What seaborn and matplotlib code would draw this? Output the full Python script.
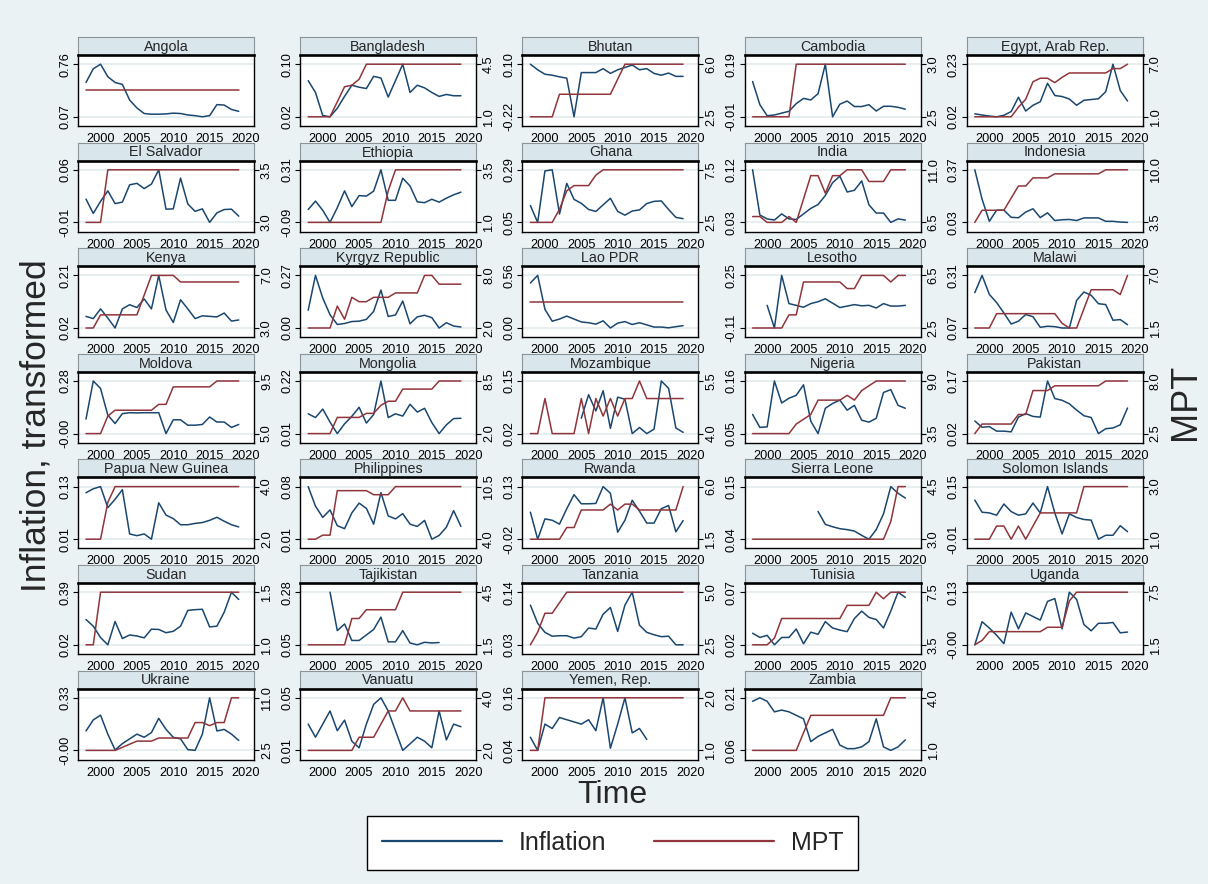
import numpy as np
import pandas as pd
import matplotlib
matplotlib.use("Agg")
import matplotlib.pyplot as plt
import seaborn as sns
from matplotlib.lines import Line2D

sns.set_style("white")
plt.rcParams["font.family"] = ["Liberation Sans", "DejaVu Sans"]

nan = np.nan
YEARS = list(range(1998, 2020))

ANGOLA_INF = [0.52, 0.70, 0.76, 0.596, 0.52, 0.495, 0.29, 0.186, 0.113, 0.104, 0.104, 0.108, 0.118, 0.113, 0.094, 0.085, 0.07, 0.085, 0.23, 0.224, 0.166, 0.142]
ANGOLA_MPT = [5.0, 5.0, 5.0, 5.0, 5.0, 5.0, 5.0, 5.0, 5.0, 5.0, 5.0, 5.0, 5.0, 5.0, 5.0, 5.0, 5.0, 5.0, 5.0, 5.0, 5.0, 5.0]
BANGLADESH_INF = [0.075, 0.057, 0.022, 0.02, 0.033, 0.051, 0.068, 0.065, 0.063, 0.0815, 0.079, 0.050, 0.075, 0.10, 0.057, 0.068, 0.064, 0.057, 0.051, 0.054, 0.052, 0.052]
BANGLADESH_MPT = [1.0, 1.0, 1.0, 1.0, 2.0, 3.0, 3.1, 3.5, 4.5, 4.5, 4.5, 4.5, 4.5, 4.5, 4.5, 4.5, 4.5, 4.5, 4.5, 4.5, 4.5, 4.5]
BHUTAN_INF = [0.10, 0.066, 0.039, 0.033, 0.023, 0.015, -0.22, 0.049, 0.049, 0.049, 0.073, 0.044, 0.066, 0.080, 0.095, 0.066, 0.073, 0.044, 0.033, 0.046, 0.026, 0.026]
BHUTAN_MPT = [2.5, 2.5, 2.5, 2.5, 4.0, 4.0, 4.0, 4.0, 4.0, 4.0, 4.0, 4.0, 5.0, 6.0, 6.0, 6.0, 6.0, 6.0, 6.0, 6.0, 6.0, 6.0]
CAMBODIA_INF = [0.124, 0.036, -0.006, -0.003, 0.004, 0.011, 0.04, 0.06, 0.054, 0.078, 0.19, -0.01, 0.038, 0.05, 0.029, 0.029, 0.036, 0.012, 0.03, 0.03, 0.026, 0.019]
CAMBODIA_MPT = [2.5, 2.5, 2.5, 2.5, 2.5, 2.5, 3.0, 3.0, 3.0, 3.0, 3.0, 3.0, 3.0, 3.0, 3.0, 3.0, 3.0, 3.0, 3.0, 3.0, 3.0, 3.0]
EGYPT_INF = [0.032, 0.027, 0.023, 0.02, 0.026, 0.041, 0.098, 0.043, 0.066, 0.08, 0.154, 0.105, 0.101, 0.091, 0.066, 0.086, 0.089, 0.092, 0.12, 0.23, 0.125, 0.083]
EGYPT_MPT = [1.0, 1.0, 1.0, 1.0, 1.0, 1.0, 2.1, 3.0, 5.0, 5.4, 5.4, 4.9, 5.5, 6.0, 6.0, 6.0, 6.0, 6.0, 6.0, 6.5, 6.5, 7.0]
ELSALVADOR_INF = [0.021, 0.002, 0.018, 0.032, 0.015, 0.017, 0.040, 0.042, 0.035, 0.041, 0.06, 0.0076, 0.008, 0.049, 0.0145, 0.0047, 0.008, -0.01, 0.0027, 0.0071, 0.0076, -0.0017]
ELSALVADOR_MPT = [3.0, 3.0, 3.0, 3.5, 3.5, 3.5, 3.5, 3.5, 3.5, 3.5, 3.5, 3.5, 3.5, 3.5, 3.5, 3.5, 3.5, 3.5, 3.5, 3.5, 3.5, 3.5]
ETHIOPIA_INF = [0.008, 0.072, 0.002, -0.09, 0.022, 0.15, 0.03, 0.114, 0.11, 0.148, 0.31, 0.078, 0.078, 0.246, 0.187, 0.066, 0.06, 0.086, 0.064, 0.094, 0.12, 0.14]
ETHIOPIA_MPT = [1.0, 1.0, 1.0, 1.0, 1.0, 1.0, 1.0, 1.0, 1.0, 1.0, 1.0, 2.5, 3.5, 3.5, 3.5, 3.5, 3.5, 3.5, 3.5, 3.5, 3.5, 3.5]
GHANA_INF = [0.127, 0.05, 0.285, 0.29, 0.088, 0.228, 0.155, 0.137, 0.109, 0.10, 0.13, 0.16, 0.10, 0.083, 0.102, 0.107, 0.136, 0.146, 0.148, 0.109, 0.073, 0.067]
GHANA_MPT = [2.5, 2.5, 2.5, 2.5, 3.75, 5.5, 6.0, 6.0, 6.0, 7.0, 7.5, 7.5, 7.5, 7.5, 7.5, 7.5, 7.5, 7.5, 7.5, 7.5, 7.5, 7.5]
INDIA_INF = [0.12, 0.0426, 0.036, 0.034, 0.0445, 0.036, 0.035, 0.0445, 0.054, 0.0606, 0.076, 0.098, 0.109, 0.082, 0.085, 0.101, 0.06, 0.046, 0.046, 0.03, 0.036, 0.034]
INDIA_MPT = [7.0, 7.0, 6.5, 6.5, 6.5, 7.0, 6.5, 8.5, 10.5, 10.5, 9.0, 10.5, 10.5, 11.0, 11.0, 11.0, 10.0, 10.0, 10.0, 11.0, 11.0, 11.0]
INDONESIA_INF = [0.37, 0.18, 0.037, 0.109, 0.109, 0.063, 0.06, 0.097, 0.118, 0.061, 0.092, 0.042, 0.047, 0.049, 0.042, 0.059, 0.059, 0.059, 0.037, 0.037, 0.032, 0.03]
INDONESIA_MPT = [3.5, 5.0, 5.0, 5.0, 5.0, 6.5, 8.0, 8.0, 9.0, 9.0, 9.0, 9.5, 9.5, 9.5, 9.5, 9.5, 9.5, 9.5, 10.0, 10.0, 10.0, 10.0]
KENYA_INF = [0.062, 0.054, 0.089, 0.056, 0.02, 0.089, 0.104, 0.094, 0.125, 0.089, 0.21, 0.085, 0.04, 0.122, 0.089, 0.054, 0.064, 0.062, 0.06, 0.074, 0.045, 0.049]
KENYA_MPT = [3.0, 3.0, 4.0, 4.0, 4.0, 4.0, 4.0, 4.0, 5.5, 7.0, 7.0, 7.0, 7.0, 6.5, 6.5, 6.5, 6.5, 6.5, 6.5, 6.5, 6.5, 6.5]
KYRGYZ_INF = [0.092, 0.27, 0.154, 0.069, 0.019, 0.024, 0.034, 0.036, 0.045, 0.086, 0.195, 0.06, 0.0675, 0.139, 0.0225, 0.058, 0.066, 0.054, 0.001, 0.028, 0.011, 0.006]
KYRGYZ_MPT = [2.0, 2.0, 2.0, 2.0, 4.5, 3.0, 5.5, 5.0, 5.0, 5.5, 5.5, 5.5, 6.0, 6.0, 6.0, 6.0, 8.0, 8.0, 7.0, 7.0, 7.0, 7.0]
LAO_INF = [0.48, 0.56, 0.20, 0.074, 0.097, 0.128, 0.097, 0.066, 0.058, 0.043, 0.078, 0.002, 0.054, 0.07, 0.039, 0.058, 0.035, 0.012, 0.012, 0.004, 0.016, 0.027]
LAO_MPT = [5.0, 5.0, 5.0, 5.0, 5.0, 5.0, 5.0, 5.0, 5.0, 5.0, 5.0, 5.0, 5.0, 5.0, 5.0, 5.0, 5.0, 5.0, 5.0, 5.0, 5.0, 5.0]
LESOTHO_INF = [nan, nan, 0.045, -0.11, 0.25, 0.057, 0.045, 0.032, 0.057, 0.07, 0.09, 0.06, 0.03, 0.04, 0.05, 0.042, 0.045, 0.027, 0.057, 0.04, 0.04, 0.045]
LESOTHO_MPT = [2.5, 2.5, 2.5, 2.5, 2.5, 3.5, 3.5, 6.0, 6.0, 6.0, 6.0, 6.0, 6.0, 5.5, 5.5, 6.5, 6.5, 6.5, 6.5, 6.0, 6.5, 6.5]
MALAWI_INF = [0.232, 0.31, 0.224, 0.187, 0.14, 0.09, 0.103, 0.133, 0.123, 0.075, 0.08, 0.078, 0.072, 0.072, 0.197, 0.235, 0.22, 0.182, 0.178, 0.107, 0.11, 0.087]
MALAWI_MPT = [1.5, 1.5, 1.5, 3.0, 3.0, 3.0, 3.0, 3.0, 3.0, 3.0, 3.0, 3.0, 2.0, 1.5, 1.5, 3.5, 5.5, 5.5, 5.5, 5.5, 5.0, 7.0]
MOLDOVA_INF = [0.076, 0.28, 0.24, 0.097, 0.052, 0.105, 0.11, 0.109, 0.11, 0.11, 0.11, -0.002, 0.072, 0.072, 0.043, 0.043, 0.047, 0.087, 0.06, 0.06, 0.031, 0.047]
MOLDOVA_MPT = [5.0, 5.0, 5.0, 6.5, 7.0, 7.0, 7.0, 7.0, 7.0, 7.0, 7.5, 7.5, 9.0, 9.0, 9.0, 9.0, 9.0, 9.0, 9.5, 9.5, 9.5, 9.5]
MONGOLIA_INF = [0.089, 0.074, 0.108, 0.056, 0.01, 0.049, 0.079, 0.115, 0.052, 0.086, 0.22, 0.074, 0.089, 0.08, 0.127, 0.096, 0.111, 0.054, 0.01, 0.045, 0.07, 0.071]
MONGOLIA_MPT = [2.0, 2.0, 2.0, 2.0, 4.0, 4.0, 4.0, 4.0, 4.5, 4.5, 5.5, 6.0, 6.0, 7.5, 7.5, 7.5, 7.5, 7.5, 8.5, 8.5, 8.5, 8.5]
MOZAMBIQUE_INF = [nan, nan, nan, nan, nan, nan, nan, 0.058, 0.116, 0.076, 0.126, 0.033, 0.11, 0.105, 0.02, 0.035, 0.02, 0.031, 0.15, 0.132, 0.034, 0.023]
MOZAMBIQUE_MPT = [4.0, 4.0, 5.0, 4.0, 4.0, 4.0, 4.0, 5.0, 4.0, 5.0, 4.5, 5.0, 4.5, 5.0, 5.0, 5.5, 5.0, 5.0, 5.0, 5.0, 5.0, 5.0]
NIGERIA_INF = [0.09, 0.063, 0.064, 0.16, 0.114, 0.124, 0.13, 0.152, 0.076, 0.05, 0.103, 0.113, 0.12, 0.099, 0.109, 0.078, 0.074, 0.082, 0.136, 0.142, 0.109, 0.103]
NIGERIA_MPT = [3.5, 3.5, 3.5, 3.5, 3.5, 3.5, 4.5, 5.0, 5.5, 7.0, 7.0, 7.0, 7.0, 7.5, 7.0, 8.0, 8.5, 9.0, 9.0, 9.0, 9.0, 9.0]
PAKISTAN_INF = [0.056, 0.038, 0.04, 0.027, 0.027, 0.025, 0.067, 0.077, 0.069, 0.067, 0.17, 0.12, 0.115, 0.105, 0.087, 0.071, 0.066, 0.02, 0.034, 0.036, 0.045, 0.093]
PAKISTAN_MPT = [2.5, 3.5, 3.5, 3.5, 3.5, 3.5, 4.5, 4.5, 7.0, 7.0, 7.0, 7.5, 7.5, 7.5, 7.5, 7.5, 7.5, 7.5, 8.0, 8.0, 8.0, 8.0]
PNG_INF = [0.116, 0.125, 0.13, 0.082, 0.101, 0.123, 0.022, 0.018, 0.022, 0.01, 0.093, 0.065, 0.057, 0.043, 0.043, 0.046, 0.048, 0.053, 0.06, 0.051, 0.043, 0.038]
PNG_MPT = [2.0, 2.0, 2.0, 3.4, 4.0, 4.0, 4.0, 4.0, 4.0, 4.0, 4.0, 4.0, 4.0, 4.0, 4.0, 4.0, 4.0, 4.0, 4.0, 4.0, 4.0, 4.0]
PHILIPPINES_INF = [0.08, 0.054, 0.039, 0.049, 0.028, 0.024, 0.045, 0.058, 0.051, 0.03, 0.072, 0.041, 0.037, 0.044, 0.03, 0.027, 0.035, 0.01, 0.015, 0.026, 0.048, 0.027]
PHILIPPINES_MPT = [4.0, 4.0, 4.5, 4.5, 10.0, 10.0, 10.0, 10.0, 10.0, 9.5, 9.5, 9.5, 10.5, 10.5, 10.5, 10.5, 10.5, 10.5, 10.5, 10.5, 10.5, 10.5]
RWANDA_INF = [0.057, -0.02, 0.038, 0.034, 0.023, 0.067, 0.107, 0.081, 0.081, 0.082, 0.13, 0.111, 0.0, 0.034, 0.091, 0.06, 0.026, 0.026, 0.067, 0.076, 0.001, 0.033]
RWANDA_MPT = [1.5, 1.5, 1.5, 1.5, 1.5, 2.5, 2.5, 4.0, 4.0, 4.0, 4.0, 4.5, 4.0, 4.5, 4.5, 4.0, 4.0, 4.0, 4.0, 4.0, 4.0, 6.0]
SIERRALEONE_INF = [nan, nan, nan, nan, nan, nan, nan, nan, nan, 0.098, 0.071, 0.066, 0.062, 0.06, 0.057, 0.048, 0.04, 0.06, 0.093, 0.15, 0.136, 0.126]
SIERRALEONE_MPT = [3.0, 3.0, 3.0, 3.0, 3.0, 3.0, 3.0, 3.0, 3.0, 3.0, 3.0, 3.0, 3.0, 3.0, 3.0, 3.0, 3.0, 3.0, 3.0, 3.5, 4.5, 4.5]
SOLOMON_INF = [0.109, 0.072, 0.07, 0.063, 0.097, 0.074, 0.063, 0.067, 0.1, 0.07, 0.15, 0.07, 0.006, 0.067, 0.056, 0.05, 0.048, -0.01, 0.002, 0.002, 0.031, 0.013]
SOLOMON_MPT = [1.0, 1.0, 1.0, 1.5, 1.5, 1.0, 1.5, 1.0, 1.5, 2.0, 2.0, 2.0, 2.0, 2.0, 2.0, 3.0, 3.0, 3.0, 3.0, 3.0, 3.0, 3.0]
SUDAN_INF = [0.198, 0.151, 0.071, 0.02, 0.184, 0.064, 0.089, 0.082, 0.069, 0.13, 0.128, 0.105, 0.115, 0.151, 0.262, 0.267, 0.27, 0.146, 0.151, 0.249, 0.39, 0.339]
SUDAN_MPT = [1.0, 1.0, 1.5, 1.5, 1.5, 1.5, 1.5, 1.5, 1.5, 1.5, 1.5, 1.5, 1.5, 1.5, 1.5, 1.5, 1.5, 1.5, 1.5, 1.5, 1.5, 1.5]
TAJIKISTAN_INF = [nan, nan, nan, 0.28, 0.112, 0.141, 0.069, 0.069, 0.093, 0.117, 0.171, 0.063, 0.063, 0.112, 0.058, 0.05, 0.061, 0.058, 0.06, nan, nan, nan]
TAJIKISTAN_MPT = [1.5, 1.5, 1.5, 1.5, 1.5, 1.5, 3.0, 3.0, 3.5, 3.5, 3.5, 3.5, 3.5, 4.5, 4.5, 4.5, 4.5, 4.5, 4.5, 4.5, 4.5, 4.5]
TANZANIA_INF = [0.113, 0.075, 0.056, 0.048, 0.049, 0.049, 0.044, 0.047, 0.065, 0.063, 0.094, 0.108, 0.058, 0.113, 0.14, 0.071, 0.056, 0.051, 0.047, 0.048, 0.03, 0.03]
TANZANIA_MPT = [2.5, 3.1, 4.0, 4.0, 4.5, 5.0, 5.0, 5.0, 5.0, 5.0, 5.0, 5.0, 5.0, 5.0, 5.0, 5.0, 5.0, 5.0, 5.0, 5.0, 5.0, 5.0]
TUNISIA_INF = [0.031, 0.027, 0.029, 0.02, 0.027, 0.027, 0.035, 0.021, 0.032, 0.03, 0.042, 0.036, 0.034, 0.0325, 0.045, 0.052, 0.046, 0.044, 0.036, 0.052, 0.07, 0.065]
TUNISIA_MPT = [3.5, 3.5, 3.5, 4.0, 5.5, 5.5, 5.5, 5.5, 5.5, 5.5, 5.5, 5.5, 5.5, 6.5, 6.5, 6.5, 6.5, 7.5, 7.0, 7.5, 7.5, 7.5]
UGANDA_INF = [-0.002, 0.056, 0.04, 0.022, 0.001, 0.08, 0.038, 0.078, 0.069, 0.06, 0.107, 0.114, 0.038, 0.13, 0.112, 0.049, 0.033, 0.052, 0.052, 0.054, 0.028, 0.03]
UGANDA_MPT = [1.5, 2.0, 3.0, 3.0, 3.0, 3.0, 3.0, 3.0, 3.0, 3.0, 3.5, 3.5, 3.5, 6.5, 7.5, 7.5, 7.5, 7.5, 7.5, 7.5, 7.5, 7.5]
UKRAINE_INF = [0.12, 0.19, 0.22, 0.10, 0.0, 0.04, 0.07, 0.10, 0.08, 0.11, 0.20, 0.13, 0.08, 0.07, 0.002, -0.003, 0.10, 0.33, 0.12, 0.13, 0.10, 0.06]
UKRAINE_MPT = [2.5, 2.5, 2.5, 2.5, 2.5, 3.0, 3.5, 4.0, 4.0, 4.0, 4.5, 4.5, 4.5, 4.5, 4.5, 7.0, 7.0, 6.5, 7.0, 7.0, 11.0, 11.0]
VANUATU_INF = [0.03, 0.02, 0.03, 0.04, 0.025, 0.033, 0.017, 0.012, 0.03, 0.045, 0.05, 0.04, 0.025, 0.01, 0.015, 0.02, 0.017, 0.012, 0.04, 0.018, 0.03, 0.028]
VANUATU_MPT = [2.0, 2.0, 2.0, 2.0, 2.0, 2.0, 2.0, 2.5, 2.5, 2.5, 3.0, 3.5, 3.5, 4.0, 3.5, 3.5, 3.5, 3.5, 3.5, 3.5, 3.5, 3.5]
YEMEN_INF = [0.07, 0.04, 0.10, 0.09, 0.115, 0.11, 0.105, 0.10, 0.11, 0.085, 0.16, 0.045, 0.10, 0.16, 0.08, 0.09, 0.065, nan, nan, nan, nan, nan]
YEMEN_MPT = [1.0, 1.0, 2.0, 2.0, 2.0, 2.0, 2.0, 2.0, 2.0, 2.0, 2.0, 2.0, 2.0, 2.0, 2.0, 2.0, 2.0, 2.0, 2.0, 2.0, 2.0, 2.0]
ZAMBIA_INF = [0.20, 0.21, 0.20, 0.17, 0.175, 0.17, 0.16, 0.15, 0.085, 0.10, 0.11, 0.12, 0.075, 0.065, 0.065, 0.07, 0.085, 0.15, 0.07, 0.06, 0.07, 0.09]
ZAMBIA_MPT = [1.0, 1.0, 1.0, 1.0, 1.0, 1.0, 1.0, 2.0, 3.0, 3.0, 3.0, 3.0, 3.0, 3.0, 3.0, 3.0, 3.0, 3.0, 3.0, 4.0, 4.0, 4.0]

PANELS = [
    ("Angola", ANGOLA_INF, ANGOLA_MPT),
    ("Bangladesh", BANGLADESH_INF, BANGLADESH_MPT),
    ("Bhutan", BHUTAN_INF, BHUTAN_MPT),
    ("Cambodia", CAMBODIA_INF, CAMBODIA_MPT),
    ("Egypt, Arab Rep.", EGYPT_INF, EGYPT_MPT),
    ("El Salvador", ELSALVADOR_INF, ELSALVADOR_MPT),
    ("Ethiopia", ETHIOPIA_INF, ETHIOPIA_MPT),
    ("Ghana", GHANA_INF, GHANA_MPT),
    ("India", INDIA_INF, INDIA_MPT),
    ("Indonesia", INDONESIA_INF, INDONESIA_MPT),
    ("Kenya", KENYA_INF, KENYA_MPT),
    ("Kyrgyz Republic", KYRGYZ_INF, KYRGYZ_MPT),
    ("Lao PDR", LAO_INF, LAO_MPT),
    ("Lesotho", LESOTHO_INF, LESOTHO_MPT),
    ("Malawi", MALAWI_INF, MALAWI_MPT),
    ("Moldova", MOLDOVA_INF, MOLDOVA_MPT),
    ("Mongolia", MONGOLIA_INF, MONGOLIA_MPT),
    ("Mozambique", MOZAMBIQUE_INF, MOZAMBIQUE_MPT),
    ("Nigeria", NIGERIA_INF, NIGERIA_MPT),
    ("Pakistan", PAKISTAN_INF, PAKISTAN_MPT),
    ("Papua New Guinea", PNG_INF, PNG_MPT),
    ("Philippines", PHILIPPINES_INF, PHILIPPINES_MPT),
    ("Rwanda", RWANDA_INF, RWANDA_MPT),
    ("Sierra Leone", SIERRALEONE_INF, SIERRALEONE_MPT),
    ("Solomon Islands", SOLOMON_INF, SOLOMON_MPT),
    ("Sudan", SUDAN_INF, SUDAN_MPT),
    ("Tajikistan", TAJIKISTAN_INF, TAJIKISTAN_MPT),
    ("Tanzania", TANZANIA_INF, TANZANIA_MPT),
    ("Tunisia", TUNISIA_INF, TUNISIA_MPT),
    ("Uganda", UGANDA_INF, UGANDA_MPT),
    ("Ukraine", UKRAINE_INF, UKRAINE_MPT),
    ("Vanuatu", VANUATU_INF, VANUATU_MPT),
    ("Yemen, Rep.", YEMEN_INF, YEMEN_MPT),
    ("Zambia", ZAMBIA_INF, ZAMBIA_MPT),
]
XTICKS = [2000, 2005, 2010, 2015, 2020]

W, H = 1208, 884
BG = "#eaf2f3"
STRIP = "#d9e6eb"
BLUE = "#1a476f"
RED = "#90353b"
GRID = "#e6eef0"

fig = plt.figure(figsize=(W / 100, H / 100), dpi=100)
fig.patch.set_facecolor(BG)

COL_LEFT, COL_STEP, BOX_W = 78, 222.2, 176
ROW_TOP, ROW_STEP, STRIP_H, BOX_H = 37, 105.6, 18, 71


def frac(x, y, w, h):
    return [x / W, 1 - (y + h) / H, w / W, h / H]


def limits(vals):
    lo, hi = np.nanmin(vals), np.nanmax(vals)
    if hi - lo < 1e-12:
        return lo, hi, (lo - 1, hi + 1)
    pad = 0.175 * (hi - lo)
    return lo, hi, (lo - pad, hi + pad)


for i, (name, inf, mpt) in enumerate(PANELS):
    r, c = divmod(i, 5)
    x0 = COL_LEFT + c * COL_STEP
    y0 = ROW_TOP + r * ROW_STEP

    sax = fig.add_axes(frac(x0, y0, BOX_W, STRIP_H))
    sax.set_facecolor(STRIP)
    sax.set_xticks([])
    sax.set_yticks([])
    for s in sax.spines.values():
        s.set_color("#8a9499")
        s.set_linewidth(0.8)
    sax.text(0.5, 0.45, name, ha="center", va="center", fontsize=10.3,
             transform=sax.transAxes)

    ax = fig.add_axes(frac(x0, y0 + STRIP_H, BOX_W, BOX_H))
    ax.set_facecolor("white")
    df = pd.DataFrame({"Year": YEARS, "Inflation": inf, "MPT": mpt})

    sns.lineplot(data=df, x="Year", y="Inflation", ax=ax, color=BLUE,
                 linewidth=1.1, errorbar=None)
    lo, hi, lim = limits(df["Inflation"].values)
    ax.set_ylim(*lim)
    ax.set_yticks([lo, hi])
    ax.set_yticklabels([f"{lo:.2f}", f"{hi:.2f}"], rotation=90, va="center")
    ax.set_xlim(1996.9, 2021.1)
    ax.set_xticks(XTICKS)
    ax.set_xticklabels([str(t) for t in XTICKS])
    ax.tick_params(axis="both", labelsize=9.2, length=3.5, width=0.8,
                   pad=1.5, colors="black", direction="out")
    ax.yaxis.grid(True, color=GRID, linewidth=1.4)
    ax.xaxis.grid(False)
    ax.set_xlabel("")
    ax.set_ylabel("")
    for k, s in ax.spines.items():
        s.set_visible(True)
        s.set_color("black")
        s.set_linewidth(1.9 if k == "top" else 1.0)

    ax2 = ax.twinx()
    sns.lineplot(data=df, x="Year", y="MPT", ax=ax2, color=RED,
                 linewidth=1.1, errorbar=None)
    mlo, mhi, mlim = limits(df["MPT"].values)
    ax2.set_ylim(*mlim)
    if mhi - mlo < 1e-12:
        ax2.set_yticks([])
    else:
        ax2.set_yticks([mlo, mhi])
        ax2.set_yticklabels([f"{mlo:.1f}", f"{mhi:.1f}"], rotation=90,
                            va="center")
    ax2.tick_params(axis="y", labelsize=9.2, length=3.5, width=0.8, pad=1.5,
                    colors="black", direction="out")
    ax2.set_xlim(1996.9, 2021.1)
    ax2.set_ylabel("")
    ax2.set_xlabel("")
    for s in ax2.spines.values():
        s.set_visible(False)

fig.text(36 / W, 1 - 426 / H, "Inflation, transformed", rotation=90,
         ha="center", va="center", fontsize=25.5)
fig.text(1186 / W, 1 - 402 / H, "MPT", rotation=90, ha="center",
         va="center", fontsize=26)
fig.text(612 / W, 1 - 795 / H, "Time", ha="center", va="center", fontsize=23)

handles = [Line2D([], [], color=BLUE, lw=1.6), Line2D([], [], color=RED, lw=1.6)]
leg = fig.legend(handles, ["Inflation", "MPT"], loc="center",
                 bbox_to_anchor=(612.5 / W, 1 - 843 / H), ncol=2,
                 frameon=True, fancybox=False, edgecolor="black",
                 facecolor="white", framealpha=1.0, fontsize=18,
                 handlelength=4.8, handletextpad=0.68, columnspacing=1.9,
                 borderpad=0.6, borderaxespad=0)
leg.get_frame().set_linewidth(1.0)

fig.savefig("out.png", dpi=100, facecolor=BG)
